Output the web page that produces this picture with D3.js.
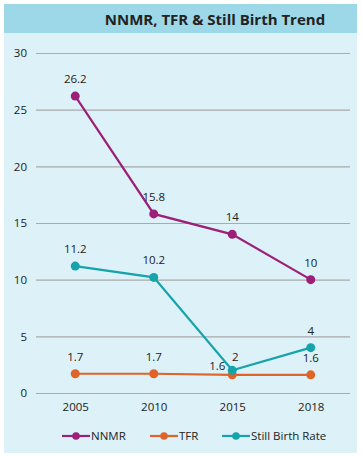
<!DOCTYPE html>
<html>
<head>
<meta charset="utf-8">
<script src="https://cdn.jsdelivr.net/npm/d3@7"></script>
<style>
  body { margin: 0; background: #fff; }
  text { font-family: "Open Sans", "Noto Sans", sans-serif; }
</style>
</head>
<body>
<div class="chart"></div>
<script>
// data
const years = ['2005', '2010', '2015', '2018'];
const nnmr = [26.2, 15.8, 14, 10];
const tfr = [1.7, 1.7, 1.6, 1.6];
const stillBirth = [11.2, 10.2, 2, 4];
const yTicks = [0, 5, 10, 15, 20, 25, 30];

const series = [
    { name: 'NNMR', values: nnmr, color: '#9c1f78' },
    { name: 'TFR', values: tfr, color: '#e06428' },
    { name: 'Still Birth Rate', values: stillBirth, color: '#16a3ab' }
];

// per-point label nudges where labels collide
const labelNudge = {
    'TFR-2015': { dx: -15, dy: -5 },
    'Still Birth Rate-2015': { dx: 3, dy: -9 }
};

const W = 362, H = 458;
const margin = { top: 53, right: 12, bottom: 65, left: 36 };
const width = W - margin.left - margin.right;
const height = H - margin.top - margin.bottom;

const svg = d3.select('.chart')
    .append('svg')
    .attr('width', W)
    .attr('height', H);

// panel background + header band
svg.append('rect')
    .attr('x', 4).attr('y', 4)
    .attr('width', 353).attr('height', 449)
    .attr('fill', '#dcf1f8');

svg.append('rect')
    .attr('x', 4).attr('y', 4)
    .attr('width', 353).attr('height', 29)
    .attr('fill', '#9dd8e8');

svg.append('text')
    .attr('x', 215).attr('y', 25)
    .attr('text-anchor', 'middle')
    .attr('font-size', 15)
    .attr('font-weight', 'bold')
    .attr('fill', '#222')
    .text('NNMR, TFR & Still Birth Trend');

const g = svg.append('g')
    .attr('transform', `translate(${margin.left}, ${margin.top})`);

// scales
const xScale = d3.scalePoint()
    .domain(years)
    .range([0, width])
    .padding(0.5);

const yScale = d3.scaleLinear()
    .domain([0, 30])
    .range([height, 0]);

// y axis with gridlines
const yAxis = d3.axisLeft(yScale)
    .tickValues(yTicks)
    .tickSize(-width)
    .tickPadding(9);

const yAxisDraw = g.append('g').call(yAxis);
yAxisDraw.select('.domain').remove();
yAxisDraw.selectAll('line').attr('stroke', '#aaa').attr('stroke-width', 1.2);
yAxisDraw.selectAll('text').attr('font-size', 11.5).attr('fill', '#222');

// x axis
const xAxis = d3.axisBottom(xScale).tickSize(0).tickPadding(10);
const xAxisDraw = g.append('g')
    .attr('transform', `translate(0, ${height})`)
    .call(xAxis);
xAxisDraw.select('.domain').remove();
xAxisDraw.selectAll('text').attr('font-size', 11.5).attr('fill', '#222');

// lines, points, labels
const line = d3.line()
    .x((d, i) => xScale(years[i]))
    .y(d => yScale(d));

const nudge = (s, i) => labelNudge[s.name + '-' + years[i]] || { dx: 0, dy: -13 };

series.forEach(s => {
    g.append('path')
        .datum(s.values)
        .attr('fill', 'none')
        .attr('stroke', s.color)
        .attr('stroke-width', 2.2)
        .attr('d', line);

    g.selectAll(null)
        .data(s.values)
        .enter()
        .append('circle')
        .attr('cx', (d, i) => xScale(years[i]))
        .attr('cy', d => yScale(d))
        .attr('r', 4.5)
        .attr('fill', s.color);

    g.selectAll(null)
        .data(s.values)
        .enter()
        .append('text')
        .attr('x', (d, i) => xScale(years[i]) + nudge(s, i).dx)
        .attr('y', (d, i) => yScale(d) + nudge(s, i).dy)
        .attr('text-anchor', 'middle')
        .attr('font-size', 11.5)
        .attr('fill', '#222')
        .text(d => d);
});

// legend
const legendX = [62, 150, 222];
const legend = svg.append('g').attr('transform', 'translate(0, 436)');

series.forEach((s, i) => {
    const item = legend.append('g').attr('transform', `translate(${legendX[i]}, 0)`);
    item.append('line')
        .attr('x1', 0).attr('x2', 28)
        .attr('stroke', s.color)
        .attr('stroke-width', 2.2);
    item.append('circle')
        .attr('cx', 14).attr('r', 3.8)
        .attr('fill', s.color);
    item.append('text')
        .attr('x', 29).attr('y', 4)
        .attr('font-size', 11.5)
        .attr('fill', '#222')
        .text(s.name);
});
</script>
</body>
</html>
